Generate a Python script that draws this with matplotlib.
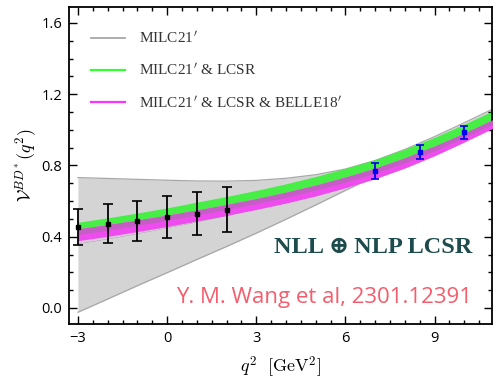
import numpy as np
import matplotlib.pyplot as plt
from matplotlib.ticker import MultipleLocator

plt.rcParams['mathtext.fontset'] = 'cm'

# band nodes in q^2 [GeV^2]
q2 = [-3, -2, -1, 0, 1, 2, 3, 4, 5, 6, 7, 8, 9, 10, 11]

# MILC21' (gray band)
milc_hi = [0.732, 0.727, 0.722, 0.717, 0.713, 0.712, 0.716, 0.728, 0.748, 0.780, 0.828, 0.890, 0.962, 1.040, 1.120]
milc_lo = [-0.024, 0.050, 0.125, 0.198, 0.272, 0.345, 0.420, 0.498, 0.578, 0.660, 0.740, 0.805, 0.875, 0.950, 1.020]
milc_mid = [0.363, 0.390, 0.420, 0.452, 0.485, 0.520, 0.558, 0.600, 0.645, 0.700, 0.765, 0.835, 0.910, 0.990, 1.060]

# MILC21' & LCSR (green band)
lcsr_hi = [0.481, 0.506, 0.533, 0.562, 0.594, 0.626, 0.660, 0.697, 0.738, 0.784, 0.833, 0.892, 0.958, 1.032, 1.110]
lcsr_lo = [0.444, 0.468, 0.494, 0.521, 0.550, 0.581, 0.614, 0.650, 0.690, 0.735, 0.785, 0.843, 0.909, 0.982, 1.060]

# MILC21' & LCSR & BELLE18' (magenta band, darker inner part)
belle_hi = [0.444, 0.468, 0.494, 0.521, 0.550, 0.581, 0.614, 0.650, 0.690, 0.735, 0.785, 0.843, 0.909, 0.982, 1.060]
belle_mid = [0.412, 0.437, 0.464, 0.492, 0.522, 0.553, 0.586, 0.622, 0.662, 0.707, 0.757, 0.816, 0.883, 0.958, 1.036]
belle_lo = [0.378, 0.402, 0.429, 0.458, 0.489, 0.520, 0.553, 0.589, 0.629, 0.675, 0.726, 0.786, 0.855, 0.932, 1.012]

# LCSR points (black)
lcsr_q2 = [-3, -2, -1, 0, 1, 2]
lcsr_val = [0.455, 0.474, 0.490, 0.511, 0.530, 0.552]
lcsr_err = [0.101, 0.107, 0.112, 0.117, 0.122, 0.128]

# lattice points (blue)
lat_q2 = [7.0, 8.5, 10.0]
lat_val = [0.770, 0.876, 0.985]
lat_err = [0.046, 0.038, 0.036]

fig = plt.figure(figsize=(5.0, 3.83), dpi=100)
ax = fig.add_axes([0.138, 0.154, 0.846, 0.828])

ax.fill_between(q2, milc_lo, milc_hi, color='#d4d4d4', lw=0, zorder=1)
ax.plot(q2, milc_hi, color='#a8a8a8', lw=0.9, zorder=1.1)
ax.plot(q2, milc_lo, color='#a8a8a8', lw=0.9, zorder=1.1)
ax.plot(q2, milc_mid, color='#8e8e8e', lw=1.0, zorder=1.2)
ax.fill_between(q2, milc_mid, belle_lo, color='#dcc4dc', lw=0, zorder=1.3)

ax.fill_between(q2, lcsr_lo, lcsr_hi, color='#46ee46', lw=0, zorder=2)
ax.fill_between(q2, belle_lo, belle_hi, color='#ee4cee', lw=0, zorder=3)
ax.fill_between(q2, belle_mid, belle_hi, color='#c45ec4', lw=0, zorder=3.1)

ax.errorbar(lcsr_q2, lcsr_val, yerr=lcsr_err, fmt='s', ms=2.2, color='black',
            ecolor='black', elinewidth=1.3, capsize=3.5, capthick=1.2, zorder=5)
ax.errorbar(lat_q2, lat_val, yerr=lat_err, fmt='s', ms=2.2, color='#0000ee',
            ecolor='#0000ee', elinewidth=1.3, capsize=3, capthick=1.2, zorder=5)

# legend drawn with proxy lines
ax.plot([], [], color='#a0a0a0', lw=1.2, label="MILC21$'$")
ax.plot([], [], color='#33ff33', lw=1.6, label="MILC21$'$ & LCSR")
ax.plot([], [], color='#ff33ff', lw=1.6, label="MILC21$'$ & LCSR & BELLE18$'$")
leg = ax.legend(loc='upper left', bbox_to_anchor=(0.02, 0.97), frameon=False,
                handlelength=2.2, handletextpad=0.9, labelspacing=1.05,
                prop={'family': ['Liberation Serif', 'DejaVu Serif'], 'size': 11})
for t in leg.get_texts():
    t.set_color('#333333')

ax.text(0.953, 0.24, 'NLL\u2009\u2295\u2009NLP LCSR', transform=ax.transAxes, ha='right',
        va='center', fontsize=17.5, fontweight='bold', color='#1e4c4c',
        family=['Liberation Serif', 'DejaVu Serif'])
ax.text(0.953, 0.085, 'Y. M. Wang et al, 2301.12391', transform=ax.transAxes, ha='right',
        va='center', fontsize=16, color='#f45d6c', family=['Open Sans', 'DejaVu Sans'])

ax.set_xlim(-3.3, 10.93)
ax.set_ylim(-0.09, 1.69)
ax.xaxis.set_major_locator(MultipleLocator(3))
ax.xaxis.set_minor_locator(MultipleLocator(0.5))
ax.yaxis.set_major_locator(MultipleLocator(0.4))
ax.yaxis.set_minor_locator(MultipleLocator(0.1))
ax.tick_params(which='both', direction='in', top=True, right=True, width=1.0)
ax.tick_params(which='major', length=6, labelsize=10.5, pad=5)
ax.tick_params(which='minor', length=3)
ax.set_yticks([0.0, 0.4, 0.8, 1.2, 1.6])
ax.set_yticklabels(['0.0', '0.4', '0.8', '1.2', '1.6'])
for lab in ax.get_xticklabels() + ax.get_yticklabels():
    lab.set_family(['Open Sans', 'DejaVu Sans'])
for s in ax.spines.values():
    s.set_linewidth(1.3)

ax.set_xlabel(r'$q^2\ \ [\mathrm{GeV}^2]$', fontsize=13, labelpad=6)
ax.set_ylabel(r'$\mathcal{V}^{BD^*}(q^2)$', fontsize=13, labelpad=2)

fig.savefig('out.png', dpi=100)
